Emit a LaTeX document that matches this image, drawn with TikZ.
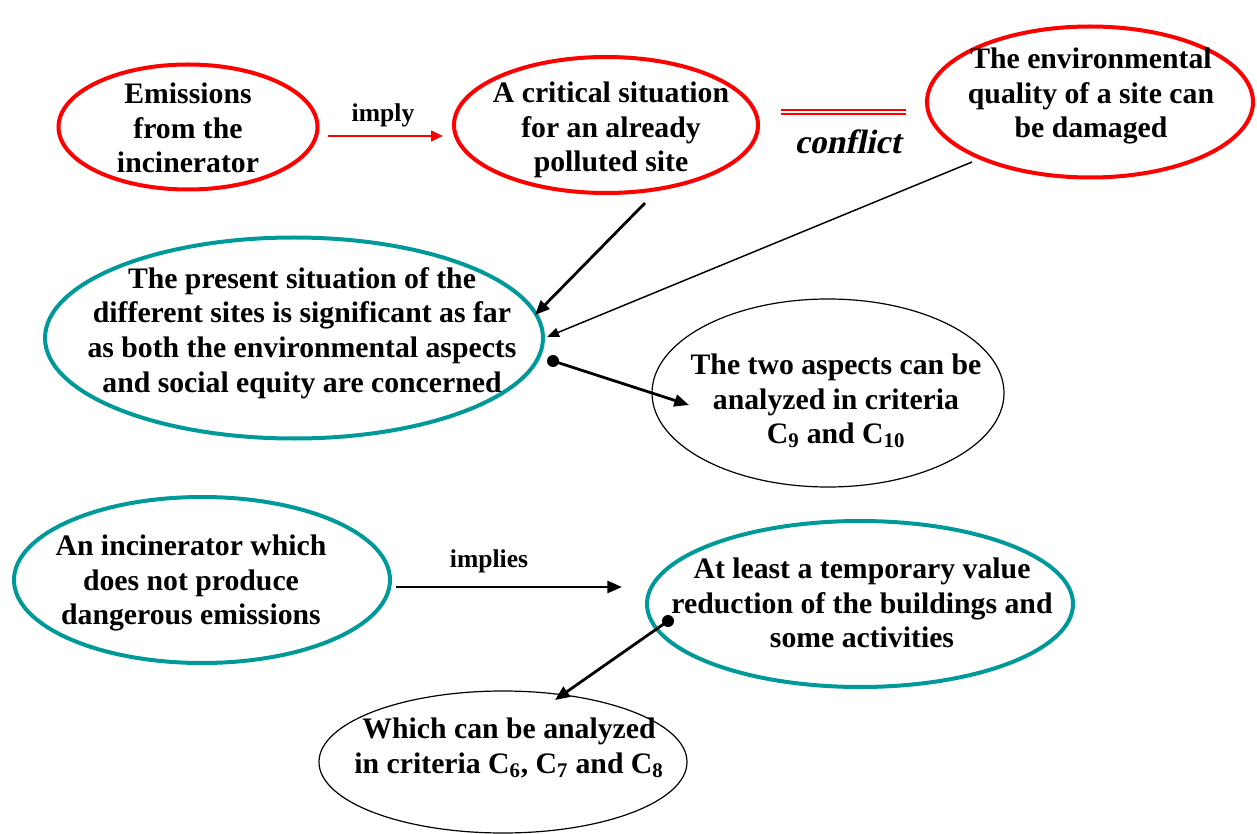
\documentclass[tikz,border=0pt]{standalone}
\usepackage{fontspec}
\setmainfont{Liberation Serif}
\newfontfamily\slantserif{Liberation Serif}[FakeSlant=0.2]
\usetikzlibrary{shapes.geometric,arrows.meta}
\definecolor{alarm}{RGB}{255,0,0}
\definecolor{sea}{RGB}{0,153,153}
\begin{document}
\begin{tikzpicture}[x=0.75pt,y=-0.75pt,
  bubble/.style={ellipse, inner sep=0pt, outer sep=0pt},
  redbubble/.style={bubble, draw=alarm, line width=3pt},
  seabubble/.style={bubble, draw=sea, line width=3pt},
  plainbubble/.style={bubble, draw=black, line width=0.9pt},
  txt/.style={font=\fontsize{22.3}{25.9}\selectfont\bfseries, align=center, inner sep=0pt},
  lbl/.style={font=\fontsize{19.2}{22}\selectfont\bfseries, inner sep=0pt},
  heavy/.style={draw=black, line width=2.1pt, -{Triangle[length=11pt,width=9pt]}},
  light/.style={draw=black, line width=1.1pt, -{Triangle[length=9pt,width=7pt]}},
  redlink/.style={draw=alarm, line width=1.9pt, -{Triangle[length=9pt,width=8pt]}},
  dot/.style={fill=black}]
\useasboundingbox (0,0) rectangle (1257,834);

% ellipses
\node[redbubble, minimum width=259*0.75pt, minimum height=125*0.75pt] (emis) at (188,127) {};
\node[redbubble, minimum width=304*0.75pt, minimum height=136*0.75pt] (crit) at (606,125) {};
\node[redbubble, minimum width=326*0.75pt, minimum height=151*0.75pt] (env) at (1090,102) {};
\node[seabubble, minimum width=498*0.75pt, minimum height=201*0.75pt] (present) at (294,338) {};
\node[plainbubble, minimum width=352*0.75pt, minimum height=188*0.75pt] (two) at (828,393) {};
\node[seabubble, minimum width=376*0.75pt, minimum height=166*0.75pt] (incin) at (202,580) {};
\node[seabubble, minimum width=426*0.75pt, minimum height=166*0.75pt] (least) at (860,604) {};
\node[plainbubble, minimum width=368*0.75pt, minimum height=142*0.75pt] (which) at (503,762) {};

% texts
\node[txt] (emisT) at (188,128) {Emissions\\from the\\incinerator};
\node[txt] (critT) at (611,130) {A critical situation\\for an already\\polluted site};
\node[txt] (envT) at (1091,96) {The environmental\\quality of a site can\\be damaged};
\node[txt] (presentT) at (302,333) {The present situation of the\\different sites is significant as far\\as both the environmental aspects\\and social equity are concerned};
\node[txt] (twoT) at (836,401) {The two aspects can be\\analyzed in criteria\\C\textsubscript{9} and C\textsubscript{10}};
\node[txt] (incinT) at (191,583) {An incinerator which\\does not produce\\dangerous emissions};
\node[txt] (leastT) at (862,603) {At least a temporary value\\reduction of the buildings and\\some activities};
\node[txt] (whichT) at (509,748) {Which can be analyzed\\in criteria C\textsubscript{6}, C\textsubscript{7} and C\textsubscript{8}};

% connector end points
\coordinate (implyA) at (328,136);
\coordinate (implyB) at (443,136);
\coordinate (critOut) at (645,203);
\coordinate (presIn1) at (535,315);
\coordinate (envOut) at (972,162);
\coordinate (presIn2) at (547,337);
\coordinate (presOut) at (553,361);
\coordinate (twoIn) at (689,405);
\coordinate (impliesA) at (396,587);
\coordinate (impliesB) at (622,587);
\coordinate (leastOut) at (668,621);
\coordinate (whichIn) at (555,700);
\coordinate (confA) at (781,112);
\coordinate (confB) at (906,112);

% connectors
\draw[redlink] (implyA) -- (implyB);
\node[lbl] (implyL) at (383,115) {imply};
\draw[alarm, line width=1.1pt, double=white, double distance=1.9pt] (confA) -- (confB);
\node[font=\fontsize{25.3}{28}\selectfont\slantserif\bfseries, inner sep=0pt] (confL) at (848,142) {conflict};
\draw[heavy] (critOut) -- (presIn1);
\draw[light] (envOut) -- (presIn2);
\fill[dot] (presOut) circle (4.5pt);
\draw[heavy] (presOut) -- (twoIn);
\draw[heavy] (impliesA) -- (impliesB);
\node[lbl] (impliesL) at (489,561) {implies};
\fill[dot] (leastOut) circle (4.5pt);
\draw[heavy] (leastOut) -- (whichIn);
\end{tikzpicture}
\end{document}
